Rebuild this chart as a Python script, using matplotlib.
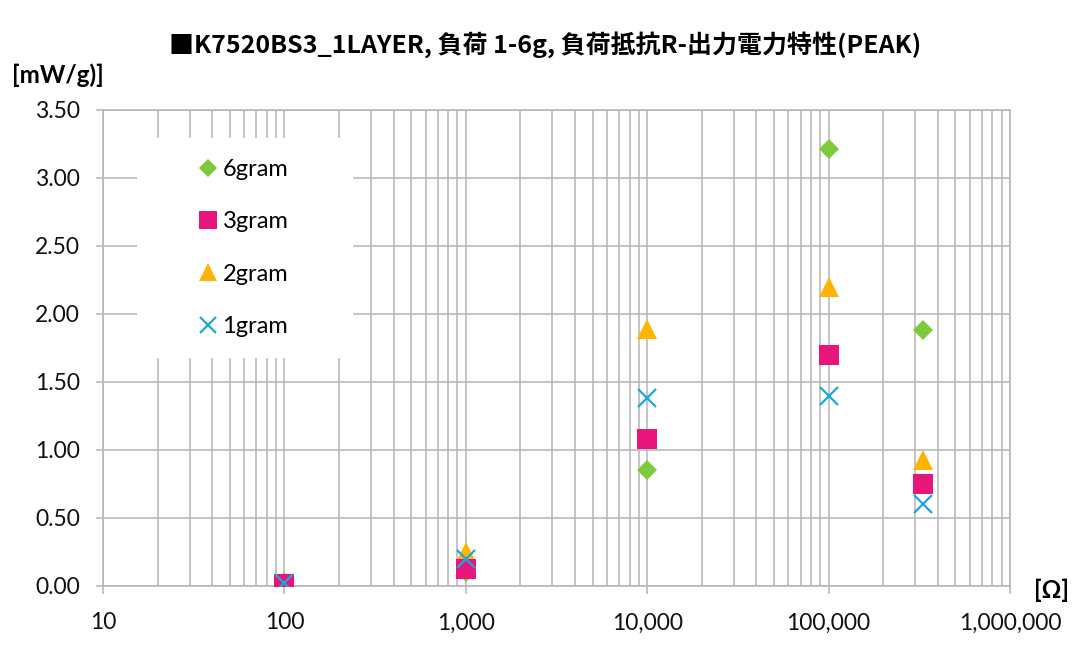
import matplotlib
matplotlib.use("Agg")
import matplotlib.pyplot as plt
from matplotlib.patches import Rectangle
from matplotlib.ticker import FixedLocator, FixedFormatter, LogLocator, NullFormatter

plt.rcParams['font.family'] = ['Lato', 'DejaVu Sans']

# ---- data ----
resistance = [100, 1000, 10000, 100000, 330000]
g6 = [0.01, 0.10, 0.85, 3.21, 1.88]
g3 = [0.015, 0.125, 1.08, 1.70, 0.75]
g2 = [0.04, 0.25, 1.89, 2.20, 0.93]
g1 = [0.02, 0.20, 1.38, 1.40, 0.60]
series_names = ['6gram', '3gram', '2gram', '1gram']

x_ticks = [10, 100, 1000, 10000, 100000, 1000000]
x_tick_labels = ['10', '100', '1,000', '10,000', '100,000', '1,000,000']
y_ticks = [0.0, 0.5, 1.0, 1.5, 2.0, 2.5, 3.0, 3.5]
y_tick_labels = ['0.00', '0.50', '1.00', '1.50', '2.00', '2.50', '3.00', '3.50']

title = '■K7520BS3_1LAYER, 負荷 1-6g, 負荷抵抗R-出力電力特性(PEAK)'

W, H = 1088, 653
fig = plt.figure(figsize=(W / 100, H / 100), dpi=100)
fig.patch.set_facecolor('white')

ax = fig.add_axes([103 / W, (H - 586) / H, (1010 - 103) / W, (586 - 110) / H])
ax.set_xscale('log')
ax.set_xlim(10, 1e6)
ax.set_ylim(0, 3.5)

grid_c = '#b4b4b4'
ax.xaxis.set_major_locator(FixedLocator(x_ticks))
ax.xaxis.set_major_formatter(FixedFormatter(x_tick_labels))
ax.xaxis.set_minor_locator(LogLocator(base=10, subs=range(2, 10)))
ax.xaxis.set_minor_formatter(NullFormatter())
ax.yaxis.set_major_locator(FixedLocator(y_ticks))
ax.yaxis.set_major_formatter(FixedFormatter(y_tick_labels))

ax.set_axisbelow(True)
ax.grid(True, which='major', axis='both', color=grid_c, linewidth=1.1)
ax.grid(True, which='minor', axis='x', color=grid_c, linewidth=1.1)
for s in ax.spines.values():
    s.set_color(grid_c)
    s.set_linewidth(1.1)
ax.tick_params(axis='x', which='major', direction='out', length=6, width=1.1, color=grid_c,
               labelsize=16.5, pad=13, labelcolor='#111111')
ax.tick_params(axis='x', which='minor', length=0)
ax.tick_params(axis='y', which='major', direction='out', length=5, width=1.1, color=grid_c,
               labelsize=16.5, pad=11.5, labelcolor='#111111')

# legend background box (covers grid)
ax.add_patch(Rectangle((137 / W, (H - 358) / H), (353 - 137) / W, (358 - 138) / H,
                       transform=fig.transFigure, facecolor='white', edgecolor='none',
                       zorder=1))

c6, c3, c2, c1 = '#7dcb3a', '#e8167a', '#ffb400', '#1aa8db'
h6, = ax.plot(resistance, g6, linestyle='none', marker='D', markersize=10.5,
              color=c6, markeredgewidth=0, zorder=3, label=series_names[0])
h2, = ax.plot(resistance, g2, linestyle='none', marker='^', markersize=15,
              color=c2, markeredgewidth=0, zorder=4, label=series_names[2])
h3, = ax.plot(resistance, g3, linestyle='none', marker='s', markersize=14,
              color=c3, markeredgewidth=0, zorder=5, label=series_names[1])
h1, = ax.plot(resistance, g1, linestyle='none', marker='x', markersize=13,
              color=c1, markeredgewidth=1.6, zorder=6, label=series_names[3])

leg = fig.legend(handles=[h6, h3, h2, h1], labels=series_names,
                 loc='center left', bbox_to_anchor=(196 / W, (H - 248) / H),
                 frameon=False, fontsize=17, labelspacing=1.33, handlelength=1.0,
                 handletextpad=0.12, borderpad=0, borderaxespad=0, markerscale=0.9)
leg.set_zorder(10)

fig.text(545 / W, (H - 45) / H, title, ha='center', va='center', fontsize=18,
         fontweight='bold', family=['Noto Sans CJK JP', 'DejaVu Sans'])
fig.text(12 / W, (H - 75) / H, '[mW/g)]', ha='left', va='center', fontsize=17.5,
         fontweight='bold')
fig.text(1051 / W, (H - 590) / H, '[Ω]', ha='center', va='center', fontsize=17.5,
         fontweight='bold')

fig.savefig('out.png', dpi=100)
